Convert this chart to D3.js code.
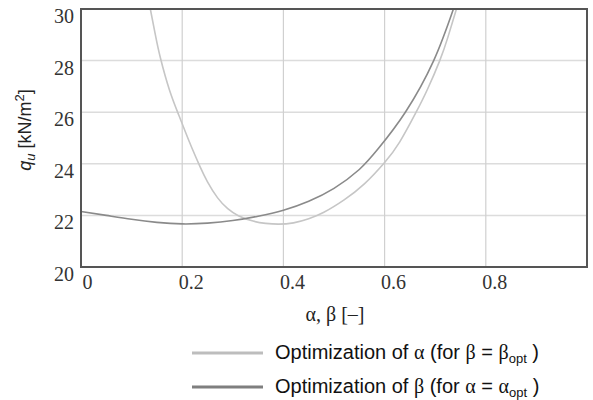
<!DOCTYPE html>
<html>
<head>
<meta charset="utf-8">
<script src="https://cdn.jsdelivr.net/npm/d3@7"></script>
<style>
  body { margin: 0; background: #fff; }
</style>
</head>
<body>
<div class="chart"></div>
<script>
// values
var alphaX = [0.137, 0.147, 0.157, 0.175, 0.193, 0.206, 0.219, 0.235, 0.25, 0.27, 0.29, 0.311, 0.34, 0.365, 0.39, 0.42, 0.45, 0.48, 0.52, 0.56, 0.6, 0.63, 0.661, 0.685, 0.709, 0.725, 0.742];
var alphaQ = [30, 29.0, 28.1, 26.85, 25.9, 25.25, 24.62, 23.9, 23.3, 22.68, 22.26, 21.99, 21.78, 21.69, 21.66, 21.71, 21.87, 22.12, 22.6, 23.22, 24.05, 24.85, 25.95, 26.9, 28, 28.9, 30];

var betaX = [0, 0.05, 0.1, 0.15, 0.2, 0.25, 0.3, 0.35, 0.4, 0.45, 0.5, 0.55, 0.588, 0.641, 0.697, 0.736];
var betaQ = [22.15, 22.0, 21.85, 21.73, 21.67, 21.7, 21.8, 21.97, 22.2, 22.55, 23.05, 23.78, 24.6, 26, 28, 30];

var xTicks = [0, 0.2, 0.4, 0.6, 0.8];
var yTicks = [20, 22, 24, 26, 28, 30];

var svgWidth = 593;
var svgHeight = 400;

var margin = { top: 9, right: 6, bottom: 133, left: 81 };
var width = svgWidth - margin.left - margin.right;
var height = svgHeight - margin.top - margin.bottom;

var svg = d3.select(".chart")
  .append("svg")
  .attr("width", svgWidth)
  .attr("height", svgHeight);

var chartGroup = svg.append("g")
  .attr("transform", `translate(${margin.left}, ${margin.top})`);

var x = d3.scaleLinear().domain([0, 1]).range([0, width]);
var y = d3.scaleLinear().domain([20, 30]).range([height, 0]);

// grid
chartGroup.selectAll("line.hgrid")
  .data(yTicks.slice(1, -1))
  .enter()
  .append("line")
  .attr("x1", 0).attr("x2", width)
  .attr("y1", d => y(d)).attr("y2", d => y(d))
  .attr("stroke", "#dcdcdc")
  .attr("stroke-width", 1.5);

chartGroup.selectAll("line.vgrid")
  .data(xTicks.slice(1))
  .enter()
  .append("line")
  .attr("x1", d => x(d)).attr("x2", d => x(d))
  .attr("y1", 0).attr("y2", height)
  .attr("stroke", "#d0d0d0")
  .attr("stroke-width", 1.2);

// tick labels
var xAxis = d3.axisBottom(x).tickValues(xTicks).tickSize(0).tickFormat(d3.format("~g"));
var yAxis = d3.axisLeft(y).tickValues(yTicks).tickSize(0).tickFormat(d3.format("d"));

var gx = chartGroup.append("g")
  .attr("transform", `translate(0, ${height})`)
  .call(xAxis);
gx.select(".domain").remove();
gx.selectAll("text")
  .attr("dx", d => d === 0 ? 6 : 8.5)
  .attr("dy", 0)
  .attr("y", 22)
  .style("font", "20px 'Liberation Serif', serif")
  .attr("fill", "#333");

var gy = chartGroup.append("g").call(yAxis);
gy.select(".domain").remove();
gy.selectAll("text")
  .attr("x", -7)
  .attr("dy", 0)
  .attr("y", 13.5)
  .style("font", "20px 'Liberation Serif', serif")
  .attr("fill", "#333");

// curves
var line = d3.line()
  .x(d => x(d[0]))
  .y(d => y(d[1]))
  .curve(d3.curveNatural);

chartGroup.append("path")
  .datum(alphaX.map((v, i) => [v, alphaQ[i]]))
  .attr("d", line)
  .attr("fill", "none")
  .attr("stroke", "#c6c6c6")
  .attr("stroke-width", 1.6);

chartGroup.append("path")
  .datum(betaX.map((v, i) => [v, betaQ[i]]))
  .attr("d", line)
  .attr("fill", "none")
  .attr("stroke", "#8a8a8a")
  .attr("stroke-width", 1.6);

// frame
chartGroup.append("rect")
  .attr("x", 0).attr("y", 0)
  .attr("width", width).attr("height", height)
  .attr("fill", "none")
  .attr("stroke", "#555")
  .attr("stroke-width", 2);

// axis titles
var yTitle = svg.append("text")
  .attr("transform", "translate(31, 130) rotate(-90)")
  .attr("text-anchor", "middle")
  .style("font", "18px 'Liberation Sans', Arial, sans-serif")
  .attr("fill", "#222");
yTitle.append("tspan").style("font-style", "italic").text("q");
yTitle.append("tspan").style("font-style", "italic").style("font-size", "13px").attr("dy", 4).text("u");
yTitle.append("tspan").attr("dy", -4).text(" [kN/m");
yTitle.append("tspan").style("font-size", "13px").attr("dy", -7).text("2");
yTitle.append("tspan").attr("dy", 7).text("]");

svg.append("text")
  .attr("x", 335)
  .attr("y", 321)
  .attr("text-anchor", "middle")
  .style("font", "20px 'Liberation Serif', serif")
  .attr("fill", "#222")
  .text("α, β [–]");

// legend
var legendItems = [
  { color: "#bdbdbd", a: "α", b: "β" },
  { color: "#7f7f7f", a: "β", b: "α" }
];

var legend = svg.selectAll("g.legend")
  .data(legendItems)
  .enter()
  .append("g")
  .attr("class", "legend")
  .attr("transform", (d, i) => `translate(192, ${353 + i * 34})`);

legend.append("line")
  .attr("x1", 0).attr("x2", 71)
  .attr("y1", 0).attr("y2", 0)
  .attr("stroke", d => d.color)
  .attr("stroke-width", 3);

var lt = legend.append("text")
  .attr("x", 83)
  .attr("y", 6)
  .style("font", "20px 'Liberation Sans', Arial, sans-serif")
  .attr("fill", "#111");
lt.append("tspan").text("Optimization of ");
lt.append("tspan").style("font-family", "'Liberation Serif', serif").text(d => d.a);
lt.append("tspan").text(" (for ");
lt.append("tspan").style("font-family", "'Liberation Serif', serif").text(d => d.b);
lt.append("tspan").text(" = ");
lt.append("tspan").style("font-family", "'Liberation Serif', serif").text(d => d.b);
lt.append("tspan").style("font-size", "13px").attr("dy", 4).text("opt");
lt.append("tspan").attr("dy", -4).text(" )");
</script>
</body>
</html>
